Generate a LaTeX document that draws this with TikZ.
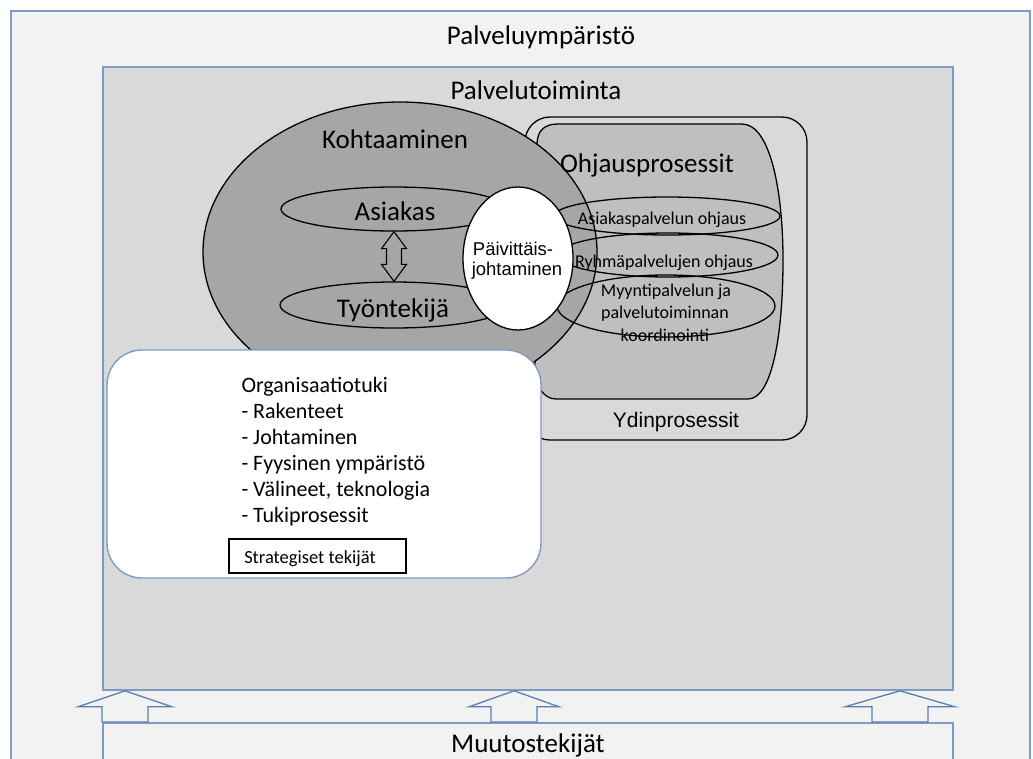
\documentclass[tikz,border=0pt]{standalone}
\usepackage{fontspec}
\setmainfont{Carlito}
\newfontfamily\arialish{Liberation Sans}
\usetikzlibrary{calc,shapes.geometric}
\definecolor{envpaper}{HTML}{F2F2F2}
\definecolor{envblue}{HTML}{7F9BC2}
\definecolor{opsgrey}{HTML}{D9D9D9}
\definecolor{meetgrey}{HTML}{A6A6A6}
\definecolor{ctrlgrey}{HTML}{BFBFBF}
\definecolor{liftblue}{HTML}{5A7FB5}

\begin{document}
\begin{tikzpicture}[
  x=1pt,y=-1pt,
  frame/.style={draw=envblue,line width=1.6pt,inner sep=0pt},
  title/.style={anchor=base,font=\fontsize{27}{32}\selectfont},
  ink/.style={draw=black,line width=1.3pt},
  blob/.style={ellipse,ink,inner sep=0pt},
  small/.style={anchor=base,font=\fontsize{18}{22}\selectfont},
  sans/.style={anchor=base,font=\arialish\fontsize{18.5}{20}\selectfont},
  lift/.style={draw=liftblue,line width=1.3pt,fill=envpaper,line join=miter},
  pair/.style={ink,line width=1.1pt,fill=meetgrey,line join=miter},
]
  \useasboundingbox (0,0) rectangle (1033,758);
  \clip (0,0) rectangle (1033,758);

  % The environment frame runs off the right and bottom edges of the page.
  \fill[white] (0,0) rectangle (1033,758);
  \node[frame,fill=envpaper,minimum width=1019,minimum height=790,anchor=north west] (ymparisto) at (10,10) {};
  \node[title] (ymparistolabel) at (541,44) {Palveluympäristö};
  \node[frame,fill=opsgrey,minimum width=850,minimum height=623] (toiminta) at (528,378.5) {};
  \node[title] (toimintalabel) at (536,99) {Palvelutoiminta};
  \node[frame,fill=envpaper,minimum width=850,minimum height=80,anchor=north] (muutos) at (528,722) {};
  \node[title] (muutoslabel) at (528,752) {Muutostekijät};

  % Change factors push up into the service operations.
  \foreach \ax/\hw/\sw in {125/47/23,514/45/23,900/55/28}
    \draw[lift] (toiminta.south -| \ax,0) -- ++(\hw,16) -- ++(\sw-\hw,0)
      -- ($(muutos.north -| \ax,0)+(\sw,0)$) -- ++(-2*\sw,0)
      -- ($(toiminta.south -| \ax,0)+(-\sw,16)$) -- ++(\sw-\hw,0) -- cycle;

  % Core processes sit behind the encounter.
  \node[ink,rounded corners=25,minimum width=282,minimum height=323,inner sep=0pt] (ydin) at (666,278.5) {};
  \node[sans,font=\arialish\fontsize{21}{25}\selectfont] (ydinlabel) at (676,427) {Ydinprosessit};
  \draw[ink,fill=ctrlgrey] (537,145) .. controls (537,130) and (545,124) .. (558,124) -- (742,124)
    .. controls (770,124) and (783,190) .. (783,260) .. controls (783,335) and (772,399) .. (748,399)
    -- (556,399) .. controls (543,399) and (535,385) .. (535,368) -- cycle;

  \node[blob,fill=meetgrey,minimum width=394,minimum height=300] (kohtaaminen) at (400,252) {};
  \node[title] (kohtaaminenlabel) at (395,148) {Kohtaaminen};
  \node[title] (ohjauslabel) at (647,172) {Ohjausprosessit};

  \node[blob,minimum width=226,minimum height=38] (asiakasohjaus) at (667,216) {};
  \node[blob,minimum width=220,minimum height=44] (ryhmaohjaus) at (668,255) {};
  \node[blob,minimum width=218,minimum height=62] (myyntiohjaus) at (666,306) {};
  \node[small] (asiakasohjauslabel) at (662,224) {Asiakaspalvelun ohjaus};
  \node[small] (ryhmaohjauslabel) at (664,267) {Ryhmäpalvelujen ohjaus};
  \node[small] (myynti1) at (666,296) {Myyntipalvelun ja};
  \node[small] (myynti2) at (665,318.5) {palvelutoiminnan};
  \node[small] (myynti3) at (665,341) {koordinointi};

  % Customer and employee meet face to face.
  \node[blob,fill=meetgrey,minimum width=226,minimum height=44] (asiakas) at (394,209) {};
  \node[title] (asiakaslabel) at (395,220) {Asiakas};
  \node[blob,fill=meetgrey,minimum width=228,minimum height=46] (tyontekija) at (394,305) {};
  \node[title] (tyontekijalabel) at (393,317) {Työntekijä};
  \draw[pair] (asiakas.south) -- ++(12.5,17) -- ++(-5,0) -- ($(tyontekija.north)+(7.5,-17)$)
    -- ++(5,0) -- (tyontekija.north) -- ++(-12.5,-17) -- ++(5,0)
    -- ($(asiakas.south)+(-7.5,17)$) -- ++(-5,0) -- cycle;

  \node[blob,fill=white,minimum width=110,minimum height=143] (paivittais) at (518,258.5) {};
  \node[sans] (paivittais1) at (513,255) {Päivittäis-};
  \node[sans] (paivittais2) at (517,275) {johtaminen};

  % Organisational support covers the lower left of the encounter.
  \node[frame,line width=1.4pt,fill=white,rounded corners=35,minimum width=434,minimum height=228] (tuki) at (324,464) {};
  \foreach \line [count=\i from 0] in {Organisaatiotuki,- Rakenteet,- Johtaminen,
      - Fyysinen ympäristö,{- Välineet, teknologia},- Tukiprosessit}
    \node[anchor=base west,font=\fontsize{22}{26}\selectfont] (tuki\i) at (238,392+26*\i) {\line};
  \node[draw,line width=1.8pt,fill=white,minimum width=177,minimum height=34,inner sep=0pt] (strategia) at (317.5,556) {};
  \node[anchor=base,font=\fontsize{18.5}{22}\selectfont] (strategialabel) at (310,563) {Strategiset tekijät};
\end{tikzpicture}
\end{document}
